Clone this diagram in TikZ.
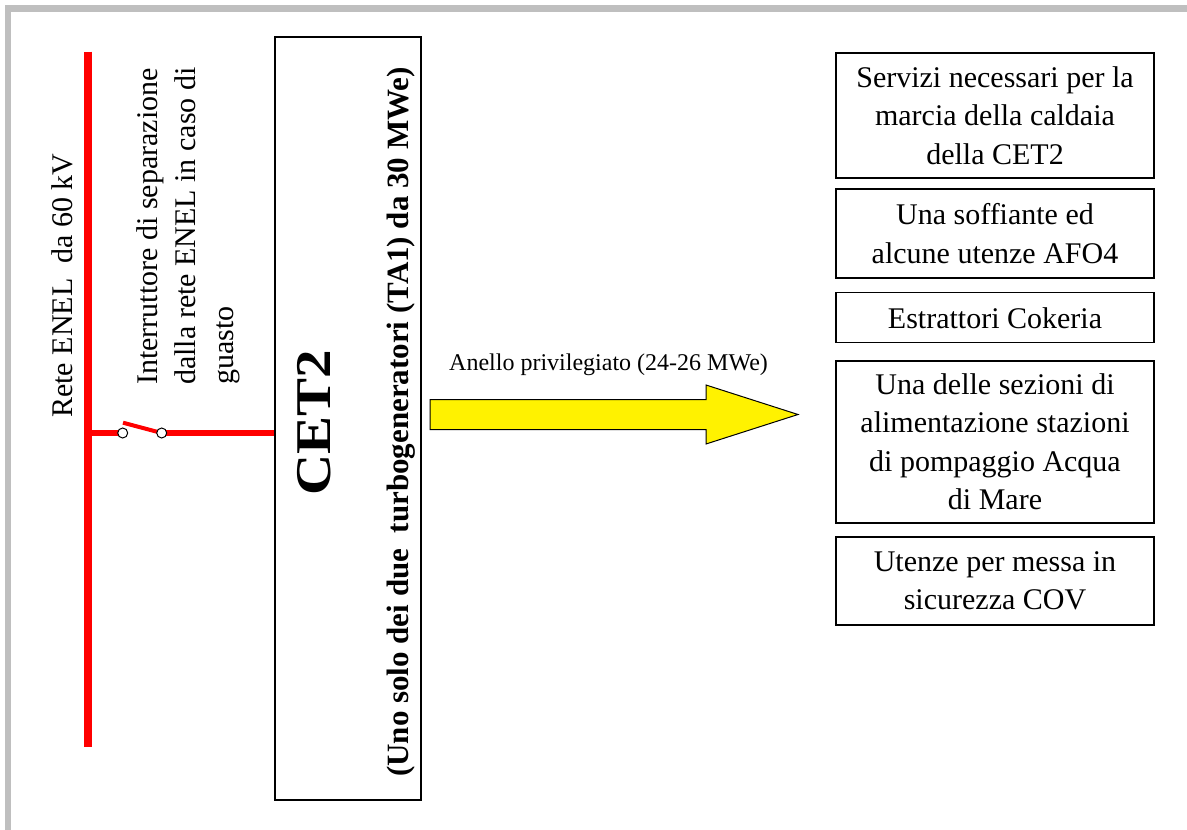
\documentclass[tikz,border=0pt]{standalone}
\usepackage{fontspec}
\setmainfont{Liberation Serif}
\usepackage{graphicx}
\begin{document}
\begin{tikzpicture}[x=1pt,y=-1pt,
  txt/.style={font=\fontsize{30}{38}\selectfont, inner sep=0pt},
  box/.style={draw, line width=1.2pt, minimum width=318pt, align=center, inner sep=0pt, font=\fontsize{30}{38.5}\selectfont},
  bus/.style={draw=red, line width=8pt},
  feeder/.style={draw=red, line width=5.5pt},
  blade/.style={draw=red, line width=4pt},
  contact/.style={circle, draw=black, fill=white, line width=1pt, minimum size=10pt, inner sep=0pt},
  frame/.style={fill=black!25}]

\useasboundingbox (0,0) rectangle (1187,830);
\fill[frame] (5,5) rectangle (1187,12);
\fill[frame] (5,5) rectangle (11,830);

% CET2 block
\node[draw, line width=1.5pt, minimum width=146pt, minimum height=763pt, inner sep=0pt] (cet) at (348,418.5) {};
\node[rotate=90, anchor=base, inner sep=0pt, font=\bfseries\fontsize{50}{60}\selectfont] (cetname) at (330,422.5) {\scalebox{1.14}[1]{CET2}};
\node[rotate=90, anchor=base, inner sep=0pt, font=\bfseries\fontsize{31}{36}\selectfont] (cetsub) at (408,422) {(Uno solo dei due\ \ turbogeneratori (TA1) da 30 MWe)};

% bus and switch
\coordinate (busTop) at (88,51.7);
\coordinate (busBot) at (88,746.7);
\coordinate (junc) at (88,433);
\coordinate (p1) at (122.7,433);
\coordinate (p2) at (161.7,433);
\coordinate (bladeEnd) at (123,422.7);
\draw[bus] (busTop) -- (busBot);
\draw[feeder] (junc) -- (p1);
\draw[feeder] (p2) -- (p2 -| cet.west);
\draw[blade] (bladeEnd) -- (p2);
\node[contact] (c1) at (p1) {};
\node[contact] (c2) at (p2) {};

\node[rotate=90, anchor=base west, txt] (rete) at (72,418) {Rete ENEL\ \ da 60 kV};
\node[rotate=90, anchor=base west, txt, align=left] (interr) at (233,385) {Interruttore di separazione\\dalla rete ENEL in caso di\\guasto};

% arrow
\node[anchor=base west, inner sep=0pt, font=\fontsize{24}{28}\selectfont] (anello) at (449,370) {Anello privilegiato (24-26 MWe)};
\draw[fill=yellow, line width=1pt, line join=miter] (430,399.5) -- (706,399.5) -- (706,385) -- (798,414.5) -- (706,444) -- (706,429.5) -- (430,429.5) -- cycle;

% right boxes
\node[box, minimum height=125pt] (b1) at (995,115.4) {Servizi necessari per la\\marcia della caldaia\\della CET2};
\node[box, minimum height=89pt] (b2) at (995,233.5) {Una soffiante ed\\alcune utenze AFO4};
\node[box, minimum height=50pt] (b3) at (995,317.8) {Estrattori Cokeria};
\node[box, minimum height=162pt] (b4) at (995,441.9) {Una delle sezioni di\\alimentazione stazioni\\di pompaggio Acqua\\di Mare};
\node[box, minimum height=88pt] (b5) at (995,580.9) {Utenze per messa in\\sicurezza COV};
\end{tikzpicture}
\end{document}
